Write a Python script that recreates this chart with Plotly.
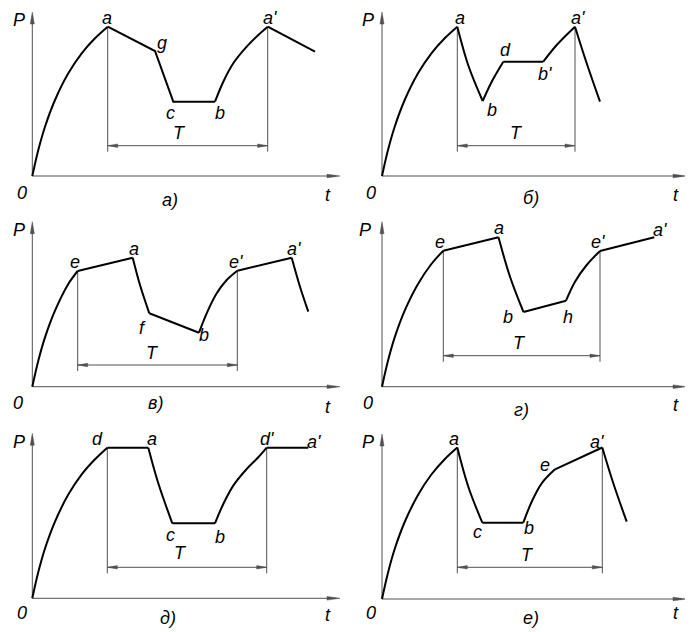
import plotly.graph_objects as go

W, H = 693, 632
PAGE_MARGIN = 8  # the browser puts the figure 8px in from the top-left corner

# ---- panel a) ----
A_PIECES = [
    ("spline", [0, 6, 12.7, 22.7, 36, 49.4, 62.7, 75.4], [0, 26, 49.3, 76, 102.7, 122.7, 137.7, 149.3]),
    ("linear", [75.4, 122.7, 141, 182.7], [149.3, 125, 74.3, 74.3]),
    ("spline", [182.7, 191, 201, 214.4, 226, 235.4], [74.3, 94.3, 112.7, 129.3, 141, 149.3]),
    ("linear", [235.4, 282.7], [149.3, 124.3]),
]
A_T = [75.4, 235.4]
A_LABELS = ["P", "a", "g", "c", "b", "T", "a'", "0", "a)", "t"]
A_LAB_T = [-13.3, 74.7, 129.7, 137.7, 187.7, 146.7, 237.5, -10.3, 137.7, 295.7]
A_LAB_P = [156, 158, 133, 63, 63, 43, 158, -17, -24, -19]

# ---- panel б) ----
B_PIECES = [
    ("spline", [0, 6, 12.7, 22.7, 36, 49.4, 62.7, 75.3], [0, 26, 49.3, 76, 102.7, 122.7, 137.7, 149.3]),
    ("spline", [75.3, 86.5, 100.7], [149.3, 110, 75]),
    ("spline", [100.7, 109.7, 121.3], [75, 94.3, 114.3]),
    ("linear", [121.3, 161.3], [114.3, 114.3]),
    ("spline", [161.3, 174.7, 193], [114.3, 131, 149.3]),
    ("spline", [193, 204.7, 218], [149.3, 112.7, 74.3]),
]
B_T = [75.3, 193]
B_LABELS = ["P", "a", "d", "b", "b'", "a'", "T", "0", "б)", "t"]
B_LAB_T = [-14.3, 78.3, 123.3, 109.7, 163, 195.5, 134, -11, 149, 294]
B_LAB_P = [156, 158, 126, 66, 102, 158, 43, -17, -22, -19]

# ---- panel в) ----
C_PIECES = [
    ("spline", [0, 6, 12.7, 22.7, 36, 45.4], [0, 26, 49.3, 76, 102.7, 115.7]),
    ("linear", [45.4, 100.4], [115.7, 129]),
    ("spline", [100.4, 107.7, 117], [129, 101.7, 73.4]),
    ("linear", [117, 166.7], [73.4, 54]),
    ("spline", [166.7, 174.4, 184.4, 194.4, 205], [54, 73.4, 93.4, 106.7, 116]),
    ("linear", [205, 259.4], [116, 129]),
    ("spline", [259.4, 267.7, 276], [129, 100, 75]),
]
C_T = [45.4, 205]
C_LABELS = ["P", "e", "a", "f", "b", "e'", "a'", "T", "0", "в)", "t"]
C_LAB_T = [-13.3, 42.7, 101.7, 110.4, 172, 203.5, 262, 120.4, -14, 122.7, 296]
C_LAB_P = [156.7, 125, 137.4, 58.4, 51.7, 125, 137.4, 34, -16.6, -16, -20]

# ---- panel г) ----
D_PIECES = [
    ("spline", [0, 6, 12.7, 22.7, 36, 49.4, 61.3], [0, 26, 49.3, 76, 102.7, 122.7, 136]),
    ("linear", [61.3, 116.5], [136, 149.4]),
    ("spline", [116.5, 128, 141.5], [149.4, 110, 74.7]),
    ("linear", [141.5, 184], [74.7, 86]),
    ("spline", [184, 193, 204.7, 218], [86, 105, 121.7, 135.7]),
    ("linear", [218, 272.3], [135.7, 149.4]),
]
D_T = [61.3, 218]
D_LABELS = ["P", "e", "a", "b", "h", "e'", "a'", "T", "0", "г)", "t"]
D_LAB_T = [-17, 58, 117.3, 126.3, 186.3, 215.8, 278, 137.3, -14.3, 139, 294]
D_LAB_P = [156.7, 145, 158.4, 70, 70, 145, 156.7, 43.4, -16, -23.3, -18.3]

# ---- panel д) ----
E_PIECES = [
    ("spline", [0, 6, 12.7, 22.7, 36, 49.4, 62.7, 75], [0, 26.2, 49.8, 76.7, 103.7, 123.9, 139, 150.6]),
    ("linear", [75, 116], [150.6, 150.6]),
    ("spline", [116, 126, 140], [150.6, 115, 75]),
    ("linear", [140, 182.7], [75, 75]),
    ("spline", [182.7, 191, 201, 214.4, 226, 234.4], [75, 94.3, 112.7, 129.3, 141, 150.6]),
    ("linear", [234.4, 276], [150.6, 150.6]),
]
E_T = [75, 234.4]
E_LABELS = ["P", "d", "a", "c", "T", "b", "d'", "a'", "0", "д)", "t"]
E_LAB_T = [-13.3, 65, 119.4, 137.7, 147.7, 187.7, 235, 282, -10.6, 136, 296]
E_LAB_P = [156.6, 159, 159, 63.3, 45.6, 61.6, 159, 156.6, -15, -20, -16.7]

# ---- panel е) ----
F_PIECES = [
    ("spline", [0, 6, 12.7, 22.7, 36, 49.4, 62.7, 75.3], [0, 26.3, 50, 77, 104, 124.5, 139.8, 151.5]),
    ("spline", [75.3, 86.3, 100.3], [151.5, 112.3, 76.3]),
    ("linear", [100.3, 141.3], [76.3, 76.3]),
    ("spline", [141.3, 149.7, 159.7, 173], [76.3, 97.3, 115.7, 129.7]),
    ("linear", [173, 220.3], [129.7, 151.5]),
    ("spline", [220.3, 231.3, 244.7], [151.5, 115.7, 77.3]),
]
F_T = [75.3, 220.3]
F_LABELS = ["P", "a", "c", "b", "e", "a'", "T", "0", "е)", "t"]
F_LAB_T = [-14.3, 72.3, 95, 146.7, 163.3, 214.8, 145.7, -11, 149, 294]
F_LAB_P = [157.3, 159.7, 67.3, 70.7, 134, 157.3, 44, -13.7, -19.3, -14.3]

# panel boxes (page pixels) and where the P-t origin sits in each
panels = [
    dict(pieces=A_PIECES, T=A_T, lab=(A_LABELS, A_LAB_T, A_LAB_P), box=(8, 346.5, 8, 210), org=(32.3, 176), tlen=307.7, plen=164, dim=(30.3, 24.3)),
    dict(pieces=B_PIECES, T=B_T, lab=(B_LABELS, B_LAB_T, B_LAB_P), box=(346.5, 693, 8, 210), org=(382, 176), tlen=304, plen=164, dim=(30.3, 24.3)),
    dict(pieces=C_PIECES, T=C_T, lab=(C_LABELS, C_LAB_T, C_LAB_P), box=(8, 346.5, 210, 421), org=(32.3, 386.7), tlen=307.7, plen=165, dim=(21.7, 15.7)),
    dict(pieces=D_PIECES, T=D_T, lab=(D_LABELS, D_LAB_T, D_LAB_P), box=(346.5, 693, 210, 421), org=(382, 386.7), tlen=304, plen=165, dim=(31, 25)),
    dict(pieces=E_PIECES, T=E_T, lab=(E_LABELS, E_LAB_T, E_LAB_P), box=(8, 346.5, 421, 632), org=(32.3, 598.3), tlen=307.7, plen=165, dim=(31, 25)),
    dict(pieces=F_PIECES, T=F_T, lab=(F_LABELS, F_LAB_T, F_LAB_P), box=(346.5, 693, 421, 632), org=(382, 599), tlen=304, plen=165, dim=(31.7, 25.7)),
]

FW, FH = W - PAGE_MARGIN, H - PAGE_MARGIN

fig = go.Figure()
annotations = []
shapes = []
layout_axes = {}

GRAY = '#505050'
FONT = dict(family='Liberation Sans, Arial, sans-serif', size=18, color='black')


def arrowhead(xa, ya, tip, direction, length, half):
    # slim filled drafting arrowhead, 1 data unit == 1 pixel
    tx, tp = tip
    dx, dp = direction
    bx, bp = tx - dx * length, tp - dp * length
    nx, np_ = -dp * half, dx * half
    return dict(type='path', xref=xa, yref=ya,
                path=f'M{tx},{tp} L{bx + nx},{bp + np_} L{bx - nx},{bp - np_} Z',
                fillcolor=GRAY, line=dict(color=GRAY, width=0.5))


for i, pn in enumerate(panels, start=1):
    xa = 'x' if i == 1 else f'x{i}'
    ya = 'y' if i == 1 else f'y{i}'
    x0, x1, y0, y1 = pn['box']
    ox, oy = pn['org']
    layout_axes['xaxis' if i == 1 else f'xaxis{i}'] = dict(
        domain=[(x0 - PAGE_MARGIN) / FW, (x1 - PAGE_MARGIN) / FW], range=[x0 - ox, x1 - ox],
        anchor=ya, visible=False, fixedrange=True)
    layout_axes['yaxis' if i == 1 else f'yaxis{i}'] = dict(
        domain=[1 - (y1 - PAGE_MARGIN) / FH, 1 - (y0 - PAGE_MARGIN) / FH], range=[oy - y1, oy - y0],
        anchor=xa, visible=False, fixedrange=True)

    # coordinate axes
    fig.add_trace(go.Scatter(
        x=[0, 0, pn['tlen'] - 4], y=[pn['plen'] - 4, 0, 0], xaxis=xa, yaxis=ya, mode='lines',
        line=dict(color=GRAY, width=1), hoverinfo='skip', showlegend=False))
    shapes.append(arrowhead(xa, ya, (0, pn['plen']), (0, 1), 12, 2))
    shapes.append(arrowhead(xa, ya, (pn['tlen'], 0), (1, 0), 13, 1.8))

    # period extension lines
    lvl, bot = pn['dim']
    ta, tb = pn['T']
    for tt in (ta, tb):
        ptop = None
        for _, ts, ps in pn['pieces']:
            for tv, pv in zip(ts, ps):
                if abs(tv - tt) < 1e-6:
                    ptop = pv
        fig.add_trace(go.Scatter(
            x=[tt, tt], y=[bot, ptop], xaxis=xa, yaxis=ya, mode='lines',
            line=dict(color=GRAY, width=1), hoverinfo='skip', showlegend=False))

    # T dimension line
    fig.add_trace(go.Scatter(
        x=[ta, tb], y=[lvl, lvl], xaxis=xa, yaxis=ya, mode='lines',
        line=dict(color=GRAY, width=1), hoverinfo='skip', showlegend=False))
    shapes.append(arrowhead(xa, ya, (ta, lvl), (-1, 0), 10, 1.7))
    shapes.append(arrowhead(xa, ya, (tb, lvl), (1, 0), 10, 1.7))

    # load curve
    for shape, ts, ps in pn['pieces']:
        fig.add_trace(go.Scatter(
            x=ts, y=ps, xaxis=xa, yaxis=ya, mode='lines',
            line=dict(color='black', width=2, shape=shape, smoothing=1),
            hoverinfo='skip', showlegend=False))

    labels, lt, lp = pn['lab']
    for txt, tv, pv in zip(labels, lt, lp):
        annotations.append(dict(
            x=tv, y=pv, xref=xa, yref=ya, text=f'<i>{txt}</i>', showarrow=False,
            font=FONT, xanchor='center', yanchor='middle'))

fig.update_layout(
    width=FW, height=FH,
    margin=dict(l=0, r=0, t=0, b=0),
    paper_bgcolor='white', plot_bgcolor='white',
    annotations=annotations,
    shapes=shapes,
    showlegend=False,
    **layout_axes,
)

fig.write_html("out.html")
